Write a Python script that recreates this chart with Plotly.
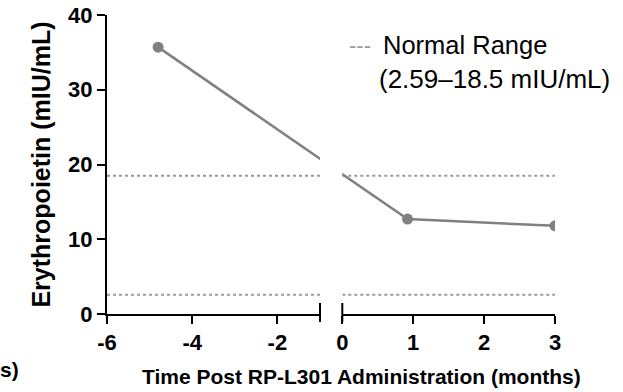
import plotly.graph_objects as go

# ---- data ----
months = [-4.8, 0.92, 3.0]
epo = [35.7, 12.7, 11.8]
normal_low = 2.59
normal_high = 18.5
left_range = [-6, -1]
right_range = [0, 3]
left_ticks = [-6, -4, -2]
left_labels = ["-6", "-4", "-2"]
right_ticks = [0, 1, 2, 3]
right_labels = ["0", "1", "2", "3"]
y_ticks = [0, 10, 20, 30, 40]
y_labels = ["0", "10", "20", "30", "40"]

# ---- layout geometry ----
W, H = 623, 392
ML, MR, MT, MB = 107, 68, 15, 78
PW, PH = W - ML - MR, H - MT - MB
dom_left = [0, (320 - ML) / PW]
dom_right = [(342.3 - ML) / PW, 1]

def px_x(px):
    return (px - ML) / PW

def px_y(py):
    return (H - MB - py) / PH

def to_frac(m):
    if m <= left_range[1]:
        return dom_left[0] + (m - left_range[0]) / (left_range[1] - left_range[0]) * (dom_left[1] - dom_left[0])
    return dom_right[0] + (m - right_range[0]) / (right_range[1] - right_range[0]) * (dom_right[1] - dom_right[0])

def frac_to_left(f):
    return left_range[0] + (f - dom_left[0]) / (dom_left[1] - dom_left[0]) * (left_range[1] - left_range[0])

def frac_to_right(f):
    return right_range[0] + (f - dom_right[0]) / (dom_right[1] - dom_right[0]) * (right_range[1] - right_range[0])

LINE_C = "#808080"
DOT_C = "#9a9a9a"
FONT = "Liberation Sans, Arial, sans-serif"

def bold(labels):
    return ["<b>%s</b>" % t for t in labels]

left_pts = [(m, v) for m, v in zip(months, epo) if m <= left_range[1]]
right_pts = [(m, v) for m, v in zip(months, epo) if m >= right_range[0]]

# line on left axis, extended toward first right point (clipped at axis end)
lx = [p[0] for p in left_pts] + [frac_to_left(to_frac(right_pts[0][0]))]
ly = [p[1] for p in left_pts] + [right_pts[0][1]]
# line on right axis, extended from last left point
rx = [frac_to_right(to_frac(left_pts[-1][0]))] + [p[0] for p in right_pts]
ry = [left_pts[-1][1]] + [p[1] for p in right_pts]

fig = go.Figure()

# normal range dotted lines
for xa, rng in (("x", left_range), ("x2", right_range)):
    for lvl in (normal_low, normal_high):
        fig.add_trace(go.Scatter(x=rng, y=[lvl, lvl], xaxis=xa, yaxis="y", mode="lines",
                                 line=dict(color=DOT_C, width=2, dash="dot"),
                                 showlegend=False, hoverinfo="skip"))

fig.add_trace(go.Scatter(x=lx, y=ly, xaxis="x", yaxis="y", mode="lines",
                         line=dict(color=LINE_C, width=2.5), showlegend=False))
fig.add_trace(go.Scatter(x=rx, y=ry, xaxis="x2", yaxis="y", mode="lines",
                         line=dict(color=LINE_C, width=2.5), showlegend=False))
fig.add_trace(go.Scatter(x=[p[0] for p in left_pts], y=[p[1] for p in left_pts], xaxis="x", yaxis="y",
                         mode="markers", marker=dict(color=LINE_C, size=11), showlegend=False))
fig.add_trace(go.Scatter(x=[p[0] for p in right_pts], y=[p[1] for p in right_pts], xaxis="x2", yaxis="y",
                         mode="markers", marker=dict(color=LINE_C, size=11), showlegend=False))

axis_common = dict(showline=True, linecolor="black", linewidth=2, ticks="outside", ticklen=8,
                   tickwidth=2, tickcolor="black", showgrid=False, zeroline=False, automargin=False,
                   tickfont=dict(family=FONT, size=22, color="black"))

fig.update_layout(
    width=W, height=H,
    margin=dict(l=ML, r=MR, t=MT, b=MB),
    paper_bgcolor="white", plot_bgcolor="white",
    xaxis=dict(domain=dom_left, range=left_range, tickvals=left_ticks, ticktext=bold(left_labels),
               anchor="y", **axis_common),
    xaxis2=dict(domain=dom_right, range=right_range, tickvals=right_ticks, ticktext=bold(right_labels),
                anchor="y", **axis_common),
    yaxis=dict(range=[0, 40], tickvals=y_ticks, ticktext=bold(y_labels), anchor="x",
               title=dict(text="<b>Erythropoietin (mIU/mL)</b>", standoff=10,
                          font=dict(family=FONT, size=25, color="black")),
               **axis_common),
    showlegend=False,
)

# axis break caps
cap_lo = -8 / PH
cap_hi = 11 / PH
fig.add_shape(type="line", xref="x domain", yref="y domain", x0=1, x1=1, y0=cap_lo, y1=cap_hi,
              line=dict(color="black", width=2))
fig.add_shape(type="line", xref="x2 domain", yref="y domain", x0=0, x1=0, y0=cap_lo, y1=cap_hi,
              line=dict(color="black", width=2))

# x axis title
fig.add_annotation(text="<b>Time Post RP-L301 Administration (months)</b>", xref="paper", yref="paper",
                   x=px_x(361), y=px_y(376), xanchor="center", yanchor="middle", showarrow=False,
                   font=dict(family=FONT, size=21, color="black"))
# cut-off neighbour label
fig.add_annotation(text="<b>s)</b>", xref="paper", yref="paper",
                   x=px_x(-2), y=px_y(369), xanchor="left", yanchor="middle", showarrow=False,
                   font=dict(family=FONT, size=21, color="black"))

# legend-like note
fig.add_annotation(text="---", xref="paper", yref="paper", x=px_x(347), y=px_y(45),
                   xanchor="left", yanchor="middle", showarrow=False,
                   font=dict(family=FONT, size=22, color=DOT_C))
fig.add_annotation(text="Normal Range", xref="paper", yref="paper", x=px_x(381), y=px_y(45),
                   xanchor="left", yanchor="middle", showarrow=False,
                   font=dict(family=FONT, size=25.5, color="black"))
fig.add_annotation(text="(2.59–18.5 mIU/mL)", xref="paper", yref="paper", x=px_x(377), y=px_y(79),
                   xanchor="left", yanchor="middle", showarrow=False,
                   font=dict(family=FONT, size=26, color="black"))

fig.write_html("out.html")
